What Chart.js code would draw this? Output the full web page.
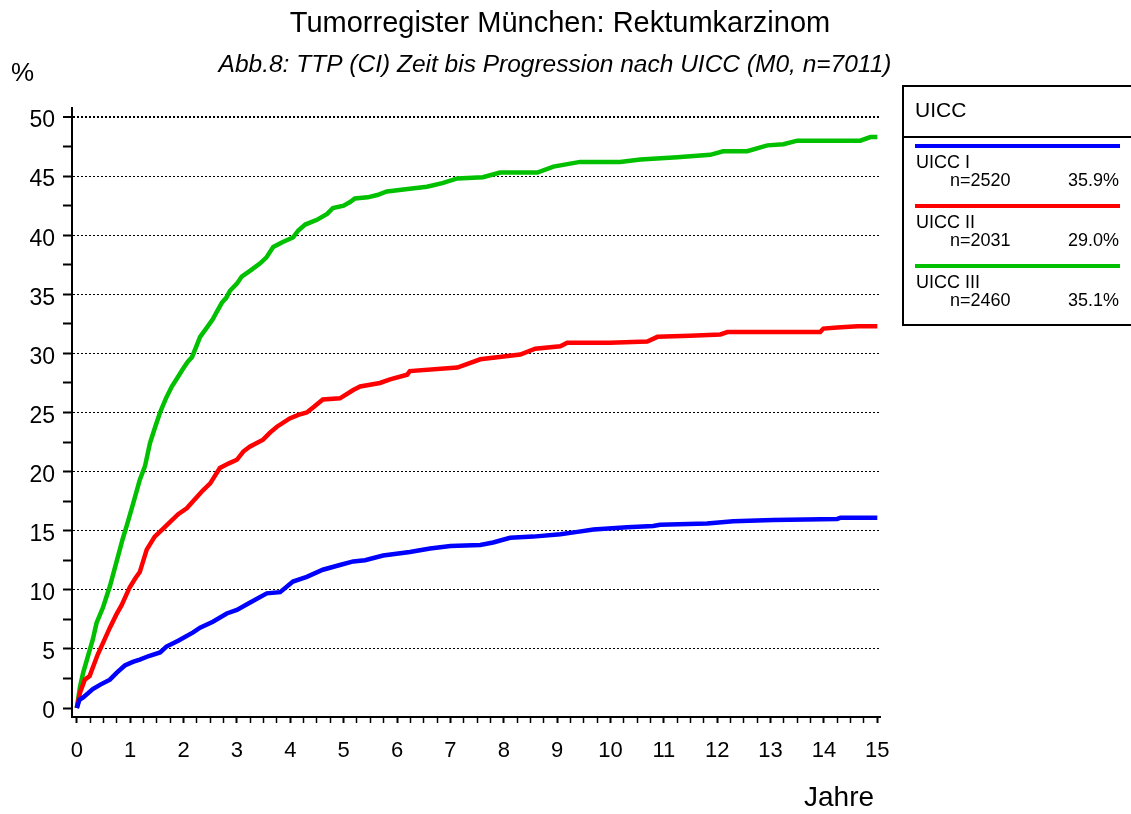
<!DOCTYPE html>
<html>
<head>
<meta charset="utf-8">
<script src="https://cdn.jsdelivr.net/npm/chart.js@4.4.1/dist/chart.umd.min.js"></script>
<style>
  html, body { margin: 0; padding: 0; background: #fff; }
  #wrap { width: 1131px; height: 814px; position: relative; }
</style>
</head>
<body>
<div id="wrap"><canvas id="chart" width="1131" height="814"></canvas></div>
<script>
const chartTitle = 'Tumorregister München: Rektumkarzinom'
const chartSubtitle = 'Abb.8: TTP (CI) Zeit bis Progression nach UICC (M0, n=7011)'
const legendTitle = 'UICC'
const seriesNames = ['UICC I', 'UICC II', 'UICC III']
const seriesCounts = ['n=2520', 'n=2031', 'n=2460']
const seriesShares = ['35.9%', '29.0%', '35.1%']
const seriesColors = ['#0000ff', '#ff0000', '#00c000']

const xTickValues = [0, 1, 2, 3, 4, 5, 6, 7, 8, 9, 10, 11, 12, 13, 14, 15]
const yTickValues = [0, 5, 10, 15, 20, 25, 30, 35, 40, 45, 50]

const blueYears = [0, 0.05, 0.12, 0.3, 0.45, 0.62, 0.75, 0.9, 1.05, 1.18, 1.35, 1.56, 1.68, 1.9, 2.18, 2.31, 2.55, 2.81, 3.0, 3.24, 3.56, 3.81, 4.05, 4.31, 4.61, 4.93, 5.18, 5.4, 5.74, 6.24, 6.62, 7.0, 7.56, 7.8, 8.12, 8.55, 9.06, 9.38, 9.68, 10.31, 10.8, 10.93, 11.81, 12.3, 13.05, 14.25, 14.31, 15]
const blueValues = [0, 0.7, 0.9, 1.6, 2.0, 2.4, 3.0, 3.6, 3.9, 4.1, 4.4, 4.7, 5.2, 5.7, 6.4, 6.8, 7.3, 8.0, 8.3, 8.9, 9.7, 9.8, 10.7, 11.1, 11.7, 12.1, 12.4, 12.5, 12.9, 13.2, 13.5, 13.7, 13.8, 14.0, 14.4, 14.5, 14.7, 14.9, 15.1, 15.3, 15.4, 15.5, 15.6, 15.8, 15.9, 16.0, 16.1, 16.1]

const redYears = [0, 0.06, 0.15, 0.24, 0.39, 0.5, 0.62, 0.74, 0.84, 0.99, 1.1, 1.18, 1.31, 1.46, 1.6, 1.74, 1.9, 2.06, 2.2, 2.36, 2.5, 2.68, 2.85, 3.0, 3.12, 3.24, 3.49, 3.62, 3.75, 3.99, 4.15, 4.31, 4.45, 4.61, 4.93, 5.18, 5.31, 5.68, 5.87, 6.19, 6.24, 7.13, 7.56, 8.31, 8.59, 9.06, 9.19, 9.99, 10.69, 10.88, 11.49, 12.06, 12.19, 13.93, 13.99, 14.25, 14.63, 15]
const redValues = [0, 1.3, 2.4, 2.7, 4.5, 5.6, 6.8, 7.9, 8.7, 10.2, 11.0, 11.5, 13.4, 14.5, 15.1, 15.7, 16.4, 16.9, 17.6, 18.4, 19.0, 20.3, 20.7, 21.0, 21.7, 22.1, 22.7, 23.3, 23.8, 24.5, 24.8, 25.0, 25.5, 26.1, 26.2, 26.9, 27.2, 27.5, 27.8, 28.2, 28.5, 28.8, 29.5, 29.9, 30.4, 30.6, 30.9, 30.9, 31.0, 31.4, 31.5, 31.6, 31.8, 31.8, 32.1, 32.2, 32.3, 32.3]

const greenYears = [0, 0.06, 0.12, 0.19, 0.3, 0.37, 0.49, 0.62, 0.74, 0.86, 0.94, 1.05, 1.18, 1.28, 1.37, 1.47, 1.56, 1.67, 1.78, 1.88, 1.99, 2.08, 2.16, 2.24, 2.31, 2.44, 2.55, 2.62, 2.72, 2.8, 2.87, 3.0, 3.09, 3.25, 3.43, 3.55, 3.68, 3.85, 4.05, 4.15, 4.28, 4.5, 4.69, 4.8, 5.0, 5.12, 5.21, 5.45, 5.63, 5.81, 6.2, 6.56, 6.85, 7.13, 7.61, 7.93, 8.63, 8.93, 9.43, 10.18, 10.56, 11.25, 11.87, 12.11, 12.56, 12.94, 13.24, 13.5, 14.68, 14.87, 15]
const greenValues = [0, 1.8, 3.0, 4.1, 5.8, 7.2, 8.5, 10.3, 12.3, 14.3, 15.5, 17.2, 19.3, 20.5, 22.4, 23.8, 25.0, 26.2, 27.2, 27.9, 28.7, 29.3, 29.7, 30.6, 31.4, 32.2, 32.9, 33.5, 34.3, 34.7, 35.3, 35.9, 36.5, 37.0, 37.6, 38.1, 39.0, 39.4, 39.8, 40.4, 40.9, 41.3, 41.8, 42.3, 42.5, 42.8, 43.1, 43.2, 43.4, 43.7, 43.9, 44.1, 44.4, 44.8, 44.9, 45.3, 45.3, 45.8, 46.2, 46.2, 46.4, 46.6, 46.8, 47.1, 47.1, 47.6, 47.7, 48.0, 48.0, 48.3, 48.3]

const FONT = '"Liberation Sans", Arial, sans-serif'

function toPoints(xs, ys) {
  return xs.map((x, i) => ({ x, y: ys[i] }))
}

// titles, "%" / "Jahre" labels and the boxed legend
const decorations = {
  id: 'decorations',
  afterDraw(chart) {
    const ctx = chart.ctx
    ctx.save()
    ctx.fillStyle = '#000'
    ctx.textBaseline = 'alphabetic'

    ctx.font = `29px ${FONT}`
    ctx.textAlign = 'center'
    ctx.fillText(chartTitle, 560, 32)

    ctx.font = `italic 24.5px ${FONT}`
    ctx.fillText(chartSubtitle, 555, 72)

    ctx.font = `26px ${FONT}`
    ctx.textAlign = 'left'
    ctx.fillText('%', 11, 81)
    ctx.font = `28px ${FONT}`
    ctx.fillText('Jahre', 804, 806)

    // legend box
    const bx = 903, by = 86, bw = 240, bh = 239
    ctx.strokeStyle = '#000'
    ctx.lineWidth = 2
    ctx.strokeRect(bx, by, bw, bh)
    ctx.beginPath()
    ctx.moveTo(bx, 137)
    ctx.lineTo(bx + bw, 137)
    ctx.stroke()

    ctx.font = `21px ${FONT}`
    ctx.fillText(legendTitle, 915, 117)

    seriesNames.forEach((name, i) => {
      const top = 146 + i * 60
      ctx.strokeStyle = seriesColors[i]
      ctx.lineWidth = 4
      ctx.beginPath()
      ctx.moveTo(915, top)
      ctx.lineTo(1120, top)
      ctx.stroke()
      ctx.font = `18px ${FONT}`
      ctx.textAlign = 'left'
      ctx.fillText(name, 916, top + 22)
      ctx.fillText(seriesCounts[i], 950, top + 40)
      ctx.textAlign = 'right'
      ctx.fillText(seriesShares[i], 1119, top + 40)
    })
    ctx.restore()
  }
}

const datasets = [
  toPoints(blueYears, blueValues),
  toPoints(redYears, redValues),
  toPoints(greenYears, greenValues),
].map((data, i) => ({
  label: seriesNames[i],
  data,
  borderColor: seriesColors[i],
  borderWidth: 4.5,
  pointRadius: 0,
  tension: 0,
  fill: false,
}))

new Chart(document.getElementById('chart'), {
  type: 'line',
  data: { datasets },
  plugins: [decorations],
  options: {
    responsive: false,
    animation: false,
    layout: { padding: { left: 0, right: 251, top: 108, bottom: 0 } },
    scales: {
      x: {
        type: 'linear',
        min: -0.09,
        max: 15.05,
        afterBuildTicks: scale => {
          const ticks = []
          for (let v = 0; v <= 15; v += 0.25) ticks.push({ value: v })
          scale.ticks = ticks
        },
        afterFit: scale => { scale.height = 97 },
        ticks: {
          autoSkip: false,
          maxRotation: 0,
          padding: 15,
          color: '#000',
          font: { family: FONT, size: 22 },
          callback: v => xTickValues.includes(v) ? String(v) : '',
        },
        grid: {
          drawOnChartArea: false,
          tickLength: 6,
          tickColor: '#000',
          tickWidth: ctx => Number.isInteger(ctx.tick.value) ? 2 : 1.5,
        },
        border: { color: '#000', width: 2 },
      },
      y: {
        min: -0.76,
        max: 50.76,
        afterBuildTicks: scale => {
          const ticks = []
          for (let v = 0; v <= 50; v += 2.5) ticks.push({ value: v })
          scale.ticks = ticks
        },
        afterFit: scale => { scale.width = 72 },
        ticks: {
          autoSkip: false,
          padding: 8,
          labelOffset: 4,
          color: '#000',
          font: { family: FONT, size: 23 },
          callback: v => yTickValues.includes(v) ? String(v) : '',
        },
        grid: {
          tickLength: 9,
          tickColor: '#000',
          tickWidth: 2,
          tickBorderDash: [],
          color: ctx => (ctx.tick && ctx.tick.value % 5 === 0 && ctx.tick.value > 0) ? '#000' : 'rgba(0,0,0,0)',
          lineWidth: ctx => (ctx.tick && ctx.tick.value === 50) ? 2 : 1,
        },
        border: { color: '#000', width: 2, dash: [2, 2] },
      },
    },
    plugins: {
      legend: { display: false },
      tooltip: { enabled: false },
    },
  },
})
</script>
</body>
</html>
